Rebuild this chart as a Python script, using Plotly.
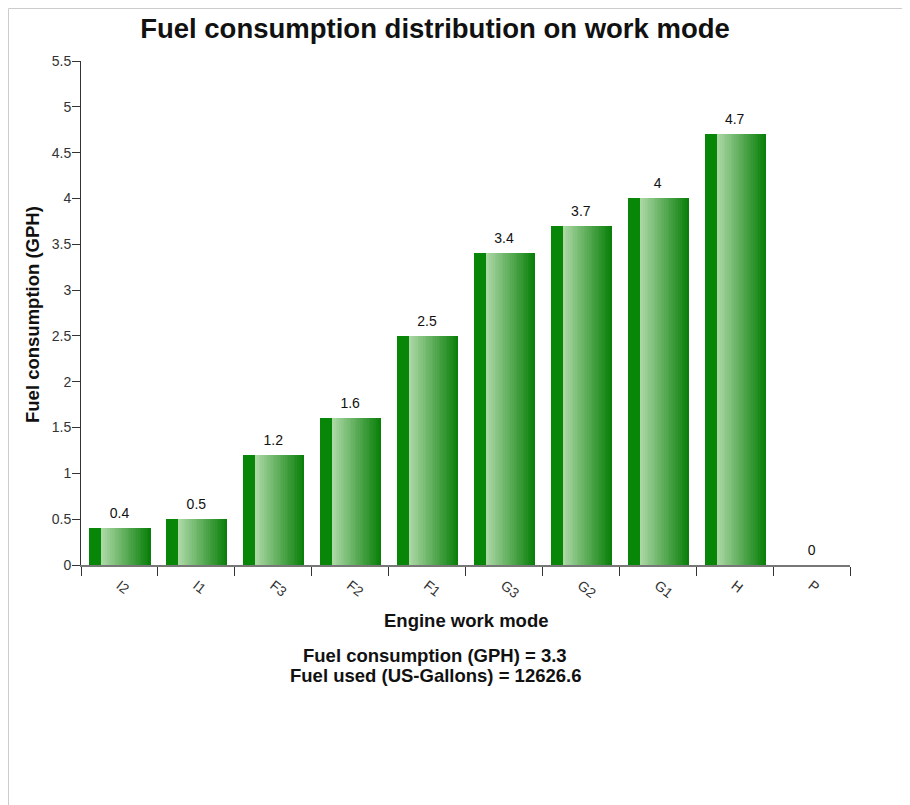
import plotly.graph_objects as go
import numpy as np

modes = ["I2", "I1", "F3", "F2", "F1", "G3", "G2", "G1", "H", "P"]
fuel_gph = [0.4, 0.5, 1.2, 1.6, 2.5, 3.4, 3.7, 4.0, 4.7, 0.0]
y_ticks = [0, 0.5, 1, 1.5, 2, 2.5, 3, 3.5, 4, 4.5, 5, 5.5]
avg_gph = 3.3
fuel_used = 12626.6

FONT = "Liberation Sans, Arial, sans-serif"

# page body has an 8px margin: figure is placed at (8, 8)
W, H = 902, 797
L, T = 73, 53
PW, PH = 769, 504


def px(xp):
    return (xp - 8 - L) / PW


def py(yp):
    return (T + PH - (yp - 8)) / PH


fig = go.Figure()

bar_left = -0.39
bar_right = 0.40
strip_right = -0.235

dark_strip = (8, 134, 8)
light = (172, 216, 166)
dark_end = (10, 128, 10)

fig.add_trace(go.Bar(
    x=modes, y=fuel_gph, width=strip_right - bar_left, offset=bar_left,
    marker=dict(color="rgb(%d,%d,%d)" % dark_strip, line=dict(width=0)),
    hoverinfo="skip", showlegend=False))

N = 28
edges = np.linspace(strip_right, bar_right, N + 1)
for i in range(N):
    t = i / (N - 1)
    c = tuple(int(round(light[k] + (dark_end[k] - light[k]) * t)) for k in range(3))
    w = edges[i + 1] - edges[i]
    fig.add_trace(go.Bar(
        x=modes, y=fuel_gph, width=w + 0.004, offset=edges[i],
        marker=dict(color="rgb(%d,%d,%d)" % c, line=dict(width=0)),
        hoverinfo="skip", showlegend=False))

fig.add_trace(go.Scatter(
    x=modes, y=fuel_gph, mode="markers+text",
    text=[("%g" % v) for v in fuel_gph], textposition="top center",
    textfont=dict(family=FONT, size=14, color="#111"),
    marker=dict(size=9, color="rgba(0,0,0,0)"),
    hoverinfo="skip", showlegend=False, cliponaxis=False))

fig.update_layout(
    width=W, height=H,
    margin=dict(l=L, r=W - L - PW, t=T, b=H - T - PH),
    paper_bgcolor="white", plot_bgcolor="white",
    barmode="overlay", bargap=0,
    font=dict(family=FONT, color="#222"),
    title=dict(text="<b>Fuel consumption distribution on work mode</b>",
               x=(435 - 8) / W, xanchor="center", y=1 - (28 - 8) / H, yanchor="middle",
               xref="container", yref="container",
               font=dict(family=FONT, size=27.5, color="#111")),
    xaxis=dict(type="category", categoryorder="array", categoryarray=modes,
               range=[-0.5, 9.5], tickson="boundaries", ticks="outside",
               ticklen=9, tickcolor="#333", tickwidth=1,
               showline=True, linecolor="#777", linewidth=2,
               showgrid=False, zeroline=False, tickangle=38,
               ticklabelstandoff=5,
               tickfont=dict(family=FONT, size=14, color="#333")),
    yaxis=dict(range=[0, 5.5], tickvals=y_ticks, ticks="outside", ticklen=8,
               tickcolor="#333", showline=True, linecolor="#333", linewidth=1,
               showgrid=False, zeroline=False, ticklabelstandoff=-2,
               tickfont=dict(family=FONT, size=14, color="#333")),
    annotations=[
        dict(text="<b>Fuel consumption (GPH)</b>", xref="paper", yref="paper",
             x=px(32), y=py(315), xanchor="center", yanchor="middle",
             textangle=-90, showarrow=False,
             font=dict(family=FONT, size=18.5, color="#111")),
        dict(text="<b>Engine work mode</b>", xref="paper", yref="paper",
             x=px(466), y=py(620), xanchor="center", yanchor="middle",
             showarrow=False, font=dict(family=FONT, size=18.5, color="#111")),
        dict(text="<b>Fuel consumption (GPH) = %g</b>" % avg_gph,
             xref="paper", yref="paper", x=px(435), y=py(655),
             xanchor="center", yanchor="middle", showarrow=False,
             font=dict(family=FONT, size=18.5, color="#111")),
        dict(text="<b>Fuel used (US-Gallons) = %s</b>" % fuel_used,
             xref="paper", yref="paper", x=px(435), y=py(675),
             xanchor="center", yanchor="middle", showarrow=False,
             font=dict(family=FONT, size=18.5, color="#111")),
    ],
    shapes=[
        dict(type="line", xref="paper", yref="paper",
             x0=(0.5 - L) / PW, x1=(W - L) / PW,
             y0=(T + PH - 0.5) / PH, y1=(T + PH - 0.5) / PH,
             line=dict(color="#cccccc", width=1)),
        dict(type="line", xref="paper", yref="paper",
             x0=(0.5 - L) / PW, x1=(0.5 - L) / PW,
             y0=(T + PH - 0.5) / PH, y1=(T + PH - H) / PH,
             line=dict(color="#cccccc", width=1)),
    ],
)

fig.write_html("out.html")
